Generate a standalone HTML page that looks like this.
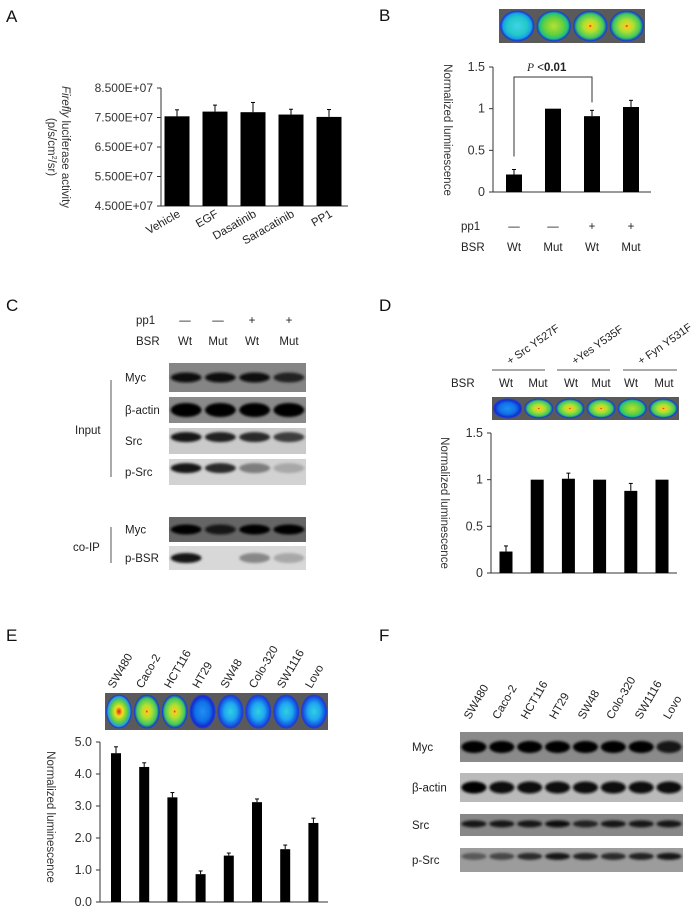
<!DOCTYPE html>
<html><head><meta charset="utf-8"><style>
html,body{margin:0;padding:0;background:#fff;}
svg{display:block;font-family:"Liberation Sans",Arial,sans-serif;}
</style></head><body>
<svg id="fig" width="698" height="911" viewBox="0 0 698 911" xmlns="http://www.w3.org/2000/svg">
<defs>
<filter id="blur1" x="-20%" y="-50%" width="140%" height="200%"><feGaussianBlur stdDeviation="1.4"/></filter>
<radialGradient id="wCyan"><stop offset="0" stop-color="#3fd3e8"/><stop offset="0.6" stop-color="#22c8c8"/><stop offset="0.85" stop-color="#18a0e8"/><stop offset="1" stop-color="#1030c0"/></radialGradient>
<radialGradient id="wGreen"><stop offset="0" stop-color="#b8e030"/><stop offset="0.6" stop-color="#60d040"/><stop offset="0.85" stop-color="#20c080"/><stop offset="1" stop-color="#1040c0"/></radialGradient>
<radialGradient id="wHot"><stop offset="0" stop-color="#e01010"/><stop offset="0.1" stop-color="#f0d020"/><stop offset="0.4" stop-color="#b0e030"/><stop offset="0.8" stop-color="#40c860"/><stop offset="1" stop-color="#1040c0"/></radialGradient>
<radialGradient id="wBlue"><stop offset="0" stop-color="#2090f0"/><stop offset="0.6" stop-color="#1070e8"/><stop offset="0.9" stop-color="#1030d0"/><stop offset="1" stop-color="#5020b0"/></radialGradient>
<radialGradient id="wLBlue"><stop offset="0" stop-color="#30d0e0"/><stop offset="0.5" stop-color="#20a8f0"/><stop offset="0.9" stop-color="#1050e0"/><stop offset="1" stop-color="#5020b0"/></radialGradient>
<radialGradient id="wRed"><stop offset="0" stop-color="#e02010"/><stop offset="0.3" stop-color="#f0e020"/><stop offset="0.65" stop-color="#60d040"/><stop offset="0.9" stop-color="#20a0e0"/><stop offset="1" stop-color="#4020b0"/></radialGradient>
</defs>
<g id="layer"></g>
</svg>
<script>
// ---------- data ----------
const aCats = ["Vehicle","EGF","Dasatinib","Saracatinib","PP1"];
const aVals = [7.54e7,7.70e7,7.68e7,7.60e7,7.52e7];
const aErrs = [0.22e7,0.22e7,0.33e7,0.18e7,0.25e7];
const aTicks = [4.5e7,5.5e7,6.5e7,7.5e7,8.5e7];
const aTickLabels = ["4.500E+07","5.500E+07","6.500E+07","7.500E+07","8.500E+07"];

const bPp1 = ["\u2014","\u2014","+","+"];
const bBsr = ["Wt","Mut","Wt","Mut"];
const bVals = [0.21,1.0,0.91,1.02];
const bErrs = [0.06,0,0.07,0.08];
const bTicks = [0,0.5,1,1.5];
const bTickLabels = ["0","0.5","1","1.5"];

const dGroups = ["+ Src Y527F","+Yes Y535F","+ Fyn Y531F"];
const dBsr = ["Wt","Mut","Wt","Mut","Wt","Mut"];
const dVals = [0.23,1.0,1.01,1.0,0.88,1.0];
const dErrs = [0.06,0,0.06,0,0.08,0];
const dTicks = [0,0.5,1,1.5];
const dTickLabels = ["0","0.5","1","1.5"];

const eCats = ["SW480","Caco-2","HCT116","HT29","SW48","Colo-320","SW1116","Lovo"];
const eVals = [4.65,4.22,3.27,0.87,1.45,3.12,1.65,2.47];
const eErrs = [0.2,0.13,0.15,0.1,0.08,0.1,0.13,0.15];
const eTicks = [0,1,2,3,4,5];
const eTickLabels = ["0.0","1.0","2.0","3.0","4.0","5.0"];

const cRows = ["Myc","\u03b2-actin","Src","p-Src","Myc","p-BSR"];
const cBand = [[0.95,0.95,0.95,0.85],[1,1,1,1],[0.9,0.85,0.8,0.7],[0.9,0.8,0.35,0.12],[1,0.9,1,1],[0.9,0,0.3,0.12]];
const fRows = ["Myc","\u03b2-actin","Src","p-Src"];
const fBand = [[1,1,1,1,1,1,1,0.9],[1,0.95,0.95,0.95,0.95,0.95,0.95,0.95],[0.9,0.9,0.9,0.95,0.85,0.9,0.9,0.9],[0.55,0.65,0.8,0.9,0.85,0.8,0.85,0.9]];

// ---------- helpers ----------
const NS="http://www.w3.org/2000/svg";
const layer=document.getElementById('layer');
function mk(tag,attrs,parent){const e=document.createElementNS(NS,tag);for(const k in attrs)e.setAttribute(k,attrs[k]);(parent||layer).appendChild(e);return e;}
function txt(x,y,s,attrs,parent){const t=mk('text',Object.assign({x:x,y:y,'font-size':11.5,fill:'#222'},attrs||{}),parent);t.textContent=s;return t;}
function lin(x1,y1,x2,y2,parent,col,w){return mk('line',{x1:x1,y1:y1,x2:x2,y2:y2,stroke:col||'#333','stroke-width':w||1},parent);}
function scale(d0,d1,r0,r1){return v=>r0+(v-d0)/(d1-d0)*(r1-r0);}

function panelLetter(x,y,s){const t=txt(x,y,s,{'font-size':17,fill:'#111'});

}

function barChart(o){
 const g=mk('g',{});
 
 
 const y=scale(o.d0,o.d1,o.y0,o.y1);
 const yax=lin(o.ax,o.y1,o.ax,o.y0,g);
 
 
 const xax=lin(o.ax,o.y0,o.axEnd,o.y0,g);
 
 
 o.ticks.forEach((t,i)=>{lin(o.ax-4,y(t),o.ax,y(t),g);
  const tl=txt(o.ax-8,y(t)+4,o.tickLabels[i],{'text-anchor':'end','font-size':o.tfs||11,fill:'#333'},g);
  
  });
 o.vals.forEach((v,i)=>{const cx=o.cx(i);
  const b=mk('rect',{x:cx-o.bw/2,y:y(v),width:o.bw,height:o.y0-y(v),fill:'#000'},g);
  
  
  if(o.errs[i]>0){lin(cx,y(v),cx,y(v+o.errs[i]),g,'#000');lin(cx-2,y(v+o.errs[i]),cx+2,y(v+o.errs[i]),g,'#000');}
 });
 return {g:g,y:y};
}
function wells(x,y,w,h,grads,name){
 const g=mk('g',{});
 
 
 mk('rect',{x:x,y:y,width:w,height:h,fill:'#5a5a5a'},g);
 const n=grads.length, cw=w/n;
 grads.forEach((gr,i)=>{mk('ellipse',{cx:x+cw*(i+0.5),cy:y+h/2,rx:cw/2-1.5,ry:h/2-2,fill:'url(#'+gr+')',stroke:'#2040d0','stroke-width':1},g);});
}
function blot(x,y,w,h,lanes,intens,bg,name,bandY,bandH){
 const g=mk('g',{});
 
 
 mk('rect',{x:x,y:y,width:w,height:h,fill:bg},g);
 const lw=w/lanes;
 intens.forEach((v,i)=>{if(v<=0)return;const c=Math.round(190-185*v);
  mk('ellipse',{cx:x+lw*(i+0.5),cy:y+h*bandY,rx:lw*0.45,ry:bandH,fill:'rgb('+c+','+c+','+c+')',filter:'url(#blur1)'},g);});
}

// ---------- Panel A ----------
panelLetter(6,22,'A');
{barChart({name:'chart-a',d0:4.5e7,d1:8.5e7,y0:206,y1:88,ax:161,axEnd:348,ticks:aTicks,tickLabels:aTickLabels,vals:aVals,errs:aErrs,bw:25,cx:i=>177+i*38,tfs:12});
 aCats.forEach((c,i)=>{const x=177+i*38+4,yy=216;
  const t=txt(x,yy,c,{'text-anchor':'end','font-size':11.5,transform:'rotate(-30 '+x+' '+yy+')'});
  
  });
 const t1=mk('text',{x:0,y:0,'font-size':11.5,fill:'#333',transform:'translate(62,147) rotate(90)','text-anchor':'middle'});
 
 
 t1.innerHTML='<tspan font-style="italic">Firefly</tspan> luciferase activity';
 const t2=mk('text',{x:0,y:0,'font-size':11.5,fill:'#333',transform:'translate(48,147) rotate(90)','text-anchor':'middle'});
 
 
 t2.innerHTML='(p/s/cm<tspan font-size="7" dy="-4">2</tspan><tspan dy="4">/sr)</tspan>';
}

// ---------- Panel B ----------
panelLetter(379,21,'B');
wells(499,9,146,34,['wCyan','wGreen','wHot','wHot'],'luminescence-image-b');
{const cb=barChart({name:'chart-b',d0:0,d1:1.5,y0:192,y1:67,ax:493,axEnd:651,ticks:bTicks,tickLabels:bTickLabels,vals:bVals,errs:bErrs,bw:16,cx:i=>514+i*39,tfs:12.5});
 const by=cb.y;
 const br=mk('polyline',{points:'514,'+(by(bVals[0])-18)+' 514,77 592,77 592,'+(by(bVals[2]+bErrs[2])-8),fill:'none',stroke:'#333','stroke-width':1});
 
 
 const p=mk('text',{x:527,y:71,'font-size':11.5,fill:'#222'});
 
 
 p.innerHTML='<tspan font-family="Liberation Serif" font-style="italic">P</tspan> &lt;<tspan font-weight="bold">0.01</tspan>';
 const yt=txt(0,0,'Normalized luminescence',{'text-anchor':'middle','font-size':11.5,fill:'#333',transform:'translate(444,130) rotate(90)'});
 
 
 const l1=txt(461,230,'pp1');
 const l2=txt(461,251,'BSR');
 bBsr.forEach((s,i)=>{const cx=514+i*39;
  const a=txt(cx,230,bPp1[i],{'text-anchor':'middle'});
  const b=txt(cx,251,s,{'text-anchor':'middle'});});
}

// ---------- Panel C ----------
panelLetter(6,311,'C');
{const cols=[185,218,252,289];
 const l1=txt(136,324,'pp1');
 const l2=txt(136,345,'BSR');
 cols.forEach((c,i)=>{const a=txt(c,324,bPp1[i],{'text-anchor':'middle'});
  const b=txt(c,345,bBsr[i],{'text-anchor':'middle'});});
 const rows=[[363,392,'#858585'],[397,423,'#8a8a8a'],[428,454,'#cacaca'],[459,485,'#d2d2d2'],[517,542,'#656565'],[546,570,'#d8d8d8']];
 rows.forEach((r,i)=>{blot(169,r[0],137,r[1]-r[0],4,cBand[i],r[2],'blot-c-'+i,i===2||i===3?0.35:0.5,i===1?7:5);
  const t=txt(125,(r[0]+r[1])/2+4,cRows[i]);
  
  });
 const i1=txt(75,434,'Input');
 lin(111,380,111,477,null,'#555');
 const i2=txt(73,551,'co-IP');
 lin(111,527,111,563,null,'#555');
}

// ---------- Panel D ----------
panelLetter(379,311,'D');
{const segs=[[492,545],[557,610],[623,677]];
 dGroups.forEach((s,i)=>{lin(segs[i][0],370,segs[i][1],370,null,'#555');
  const x=segs[i][0]+18,yy=365;
  const t=txt(x,yy,s,{'font-size':11,transform:'rotate(-35 '+x+' '+yy+')'});
  
  });
 const bl=txt(451,387,'BSR');
 const dx=[506,538,571,601,631,664];
 dBsr.forEach((s,i)=>{const t=txt(dx[i],387,s,{'text-anchor':'middle'});});
 wells(492,397,187,23,['wBlue','wHot','wHot','wHot','wGreen','wHot'],'luminescence-image-d');
 barChart({name:'chart-d',d0:0,d1:1.5,y0:573,y1:433,ax:491,axEnd:677,ticks:dTicks,tickLabels:dTickLabels,vals:dVals,errs:dErrs,bw:13,cx:i=>506+i*31.2,tfs:12.5});
 const yt=txt(0,0,'Normalized luminescence',{'text-anchor':'middle','font-size':11.5,fill:'#333',transform:'translate(441,503) rotate(90)'});
 
 
}

// ---------- Panel E ----------
panelLetter(6,641,'E');
{const ex=i=>116+i*28.2;
 eCats.forEach((c,i)=>{const x=ex(i)-2,yy=689;
  const t=txt(x,yy,c,{transform:'rotate(-60 '+x+' '+yy+')'});
  
  });
 wells(105,693,223,37,['wRed','wHot','wHot','wBlue','wLBlue','wLBlue','wLBlue','wLBlue'],'luminescence-image-e');
 barChart({name:'chart-e',d0:0,d1:5,y0:902,y1:742,ax:100,axEnd:328,ticks:eTicks,tickLabels:eTickLabels,vals:eVals,errs:eErrs,bw:10,cx:ex,tfs:12.5});
 const yt=txt(0,0,'Normalized luminescence',{'text-anchor':'middle','font-size':11.5,fill:'#333',transform:'translate(47,817) rotate(90)'});
 
 
}

// ---------- Panel F ----------
panelLetter(379,641,'F');
{const fx=i=>474+i*28.5;
 eCats.forEach((c,i)=>{const x=fx(i)-4,yy=720;
  const t=txt(x,yy,c,{transform:'rotate(-60 '+x+' '+yy+')'});
  
  });
 const rows=[[732,762,'#8a8a8a'],[773,802,'#bababa'],[814,836,'#888888'],[848,872,'#9c9c9c']];
 rows.forEach((r,i)=>{blot(460,r[0],223,r[1]-r[0],8,fBand[i],r[2],'blot-f-'+i,i===2?0.45:i===3?0.35:0.5,i<2?6:3.5);
  const t=txt(412,(r[0]+r[1])/2+4,fRows[i]);
  
  });
}
</script>
</body></html>
